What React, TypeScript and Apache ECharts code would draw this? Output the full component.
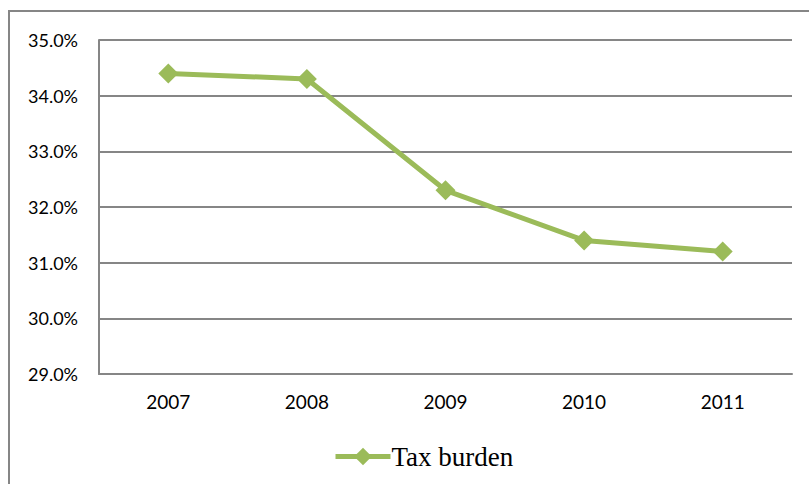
import React, { useEffect, useRef } from "react";
import * as echarts from "echarts";

const years = ["2007", "2008", "2009", "2010", "2011"];
const taxBurden = [34.4, 34.3, 32.3, 31.4, 31.2];
const seriesName = "Tax burden";

export default function App() {
  const ref = useRef<HTMLDivElement>(null);
  useEffect(() => {
    if (!ref.current) return;
    const chart = echarts.init(ref.current, null, { renderer: "svg" });
    chart.setOption({
      animation: false,
      backgroundColor: "#ffffff",
      graphic: [
        {
          type: "rect",
          shape: { x: 9, y: 11, width: 900, height: 600 },
          style: { fill: "none", stroke: "#868686", lineWidth: 2 },
          silent: true,
        },
      ],
      grid: { left: 99, top: 40, right: 17, bottom: 110 },
      xAxis: {
        type: "category",
        data: years,
        boundaryGap: true,
        axisLine: { show: true, lineStyle: { color: "#868686", width: 2 } },
        axisTick: { show: false },
        axisLabel: {
          color: "#000",
          fontSize: 19,
          fontFamily: "Lato, 'Open Sans', sans-serif",
          margin: 18,
        },
      },
      yAxis: {
        type: "value",
        min: 29,
        max: 35,
        interval: 1,
        axisLine: { show: true, lineStyle: { color: "#868686", width: 2 } },
        axisTick: { show: false },
        splitLine: { show: true, lineStyle: { color: "#868686", width: 2 } },
        axisLabel: {
          color: "#000",
          fontSize: 18,
          fontFamily: "Lato, 'Open Sans', sans-serif",
          margin: 21,
          formatter: (v: number) => v.toFixed(1) + "%",
        },
      },
      legend: {
        show: true,
        left: 328,
        top: 438,
        itemWidth: 55,
        itemHeight: 22,
        itemGap: 10,
        itemStyle: { color: "#9BBB59" },
        lineStyle: { color: "#9BBB59", width: 5 },
        textStyle: {
          color: "#000",
          fontSize: 27,
          padding: [0, 0, 0, -4],
          fontFamily: "'Liberation Serif', 'Times New Roman', serif",
        },
        data: [seriesName],
      },
      series: [
        {
          name: seriesName,
          type: "line",
          data: taxBurden,
          symbol: "diamond",
          symbolSize: 20,
          lineStyle: { color: "#9BBB59", width: 5 },
          itemStyle: { color: "#9BBB59" },
        },
      ],
    });
    return () => chart.dispose();
  }, []);
  return (
    <div
      ref={ref}
      style={{ position: "absolute", left: 0, top: 0, width: 809, height: 484 }}
    />
  );
}
